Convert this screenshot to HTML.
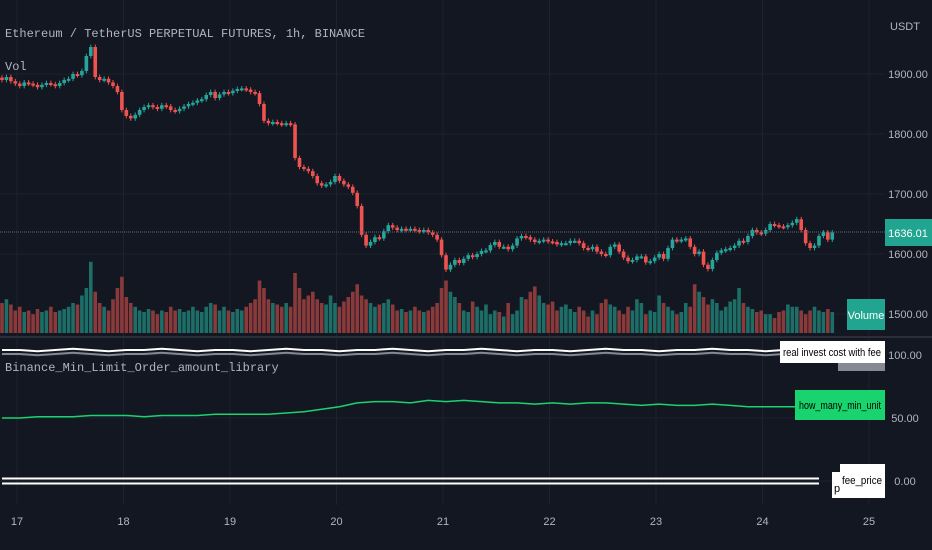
<!DOCTYPE html>
<html><head><meta charset="utf-8"><style>
html,body{margin:0;padding:0;background:#131722;overflow:hidden}
svg{display:block}
.mono{font-family:"Liberation Mono","DejaVu Sans Mono",monospace}
.sans{font-family:"Liberation Sans","DejaVu Sans",sans-serif}
</style></head><body>
<svg id="chart" width="932" height="550" viewBox="0 0 932 550" xmlns="http://www.w3.org/2000/svg">
<rect x="0" y="0" width="932" height="550" fill="#131722"/>
<g id="grid"></g>
<g id="vol"></g>
<g id="candles"></g>
<line x1="0" y1="232" x2="885" y2="232" stroke="#5d6a77" stroke-width="1" stroke-dasharray="1,1"/>
<line x1="0" y1="337" x2="932" y2="337" stroke="#2a2e39" stroke-width="2"/>
<g id="lower"></g>
<g id="axes"></g>
<text class="mono" x="5" y="37" fill="#b2b5be" font-size="12">Ethereum / TetherUS PERPETUAL FUTURES, 1h, BINANCE</text>
<text class="mono" x="5" y="70" fill="#b2b5be" font-size="12">Vol</text>
<text class="mono" x="5" y="371" fill="#b2b5be" font-size="12">Binance_Min_Limit_Order_amount_library</text>
<text class="sans" x="890" y="30" fill="#b2b5be" font-size="11">USDT</text>
<rect x="885" y="219" width="47" height="27" fill="#22a590"/>
<text class="sans" x="908" y="237" fill="#fff" font-size="11" text-anchor="middle">1636.01</text>
<rect x="847" y="299" width="38" height="31" fill="#22a590"/>
<text class="sans" x="866" y="319" fill="#fff" font-size="11" text-anchor="middle">Volume</text>
<rect x="838" y="363" width="47" height="8" fill="#868993"/>
<rect x="780" y="341" width="105" height="22" fill="#fff"/>
<text class="sans" x="832" y="356" fill="#000" font-size="11" text-anchor="middle" textLength="98" lengthAdjust="spacingAndGlyphs">real invest cost with fee</text>
<rect x="795" y="390" width="90" height="30" fill="#19d46e"/>
<text class="sans" x="840" y="409" fill="#000" font-size="11" text-anchor="middle" textLength="82" lengthAdjust="spacingAndGlyphs">how_many_min_unit</text>
<rect x="832" y="472" width="12" height="26" fill="#fff"/>
<text class="sans" x="834" y="492" fill="#000" font-size="11">p</text>
<rect x="840" y="464" width="45" height="34" fill="#fff"/>
<text class="sans" x="862" y="484" fill="#000" font-size="11" text-anchor="middle" textLength="40" lengthAdjust="spacingAndGlyphs">fee_price</text>
</svg>
<script>
const closes=[1890,1895,1888,1884,1880,1886,1884,1882,1878,1882,
1885,1883,1880,1885,1890,1892,1900,1898,1905,1930,
1945,1895,1890,1892,1886,1880,1870,1840,1830,1826,
1832,1840,1845,1848,1845,1842,1848,1846,1840,1838,
1842,1846,1850,1852,1856,1858,1865,1870,1860,1866,
1870,1868,1872,1875,1876,1874,1870,1868,1850,1822,
1818,1820,1818,1816,1818,1816,1760,1745,1742,1738,
1730,1718,1714,1716,1720,1730,1722,1716,1712,1702,
1680,1632,1614,1620,1628,1626,1638,1648,1644,1640,
1642,1640,1642,1640,1638,1640,1636,1632,1624,1598,
1574,1582,1590,1585,1592,1598,1595,1600,1605,1606,
1615,1620,1612,1612,1608,1614,1626,1630,1628,1624,
1620,1622,1624,1621,1620,1616,1618,1618,1622,1622,
1618,1610,1608,1612,1604,1600,1598,1612,1616,1604,
1594,1588,1590,1596,1596,1586,1588,1594,1600,1592,
1610,1624,1622,1624,1626,1612,1600,1604,1582,1575,
1590,1602,1606,1608,1610,1614,1622,1620,1630,1640,
1636,1634,1640,1650,1648,1646,1645,1648,1652,1658,
1640,1618,1610,1614,1630,1636,1624,1636];
const volumes=[40,45,38,30,35,28,30,25,32,28,
30,35,28,30,32,35,40,38,50,60,
95,55,40,35,30,45,60,75,48,40,
35,30,28,32,30,25,30,28,35,30,
32,28,30,35,30,28,35,40,38,30,
35,30,28,32,30,35,40,45,70,60,
45,40,38,35,40,35,80,60,45,50,
55,45,40,38,50,40,35,42,48,55,
65,50,45,40,35,38,40,45,38,30,
32,28,30,35,30,28,30,35,40,60,
70,55,48,40,30,28,42,35,30,38,
25,30,28,22,40,25,30,48,45,55,
62,50,40,38,42,30,35,38,32,28,
35,30,22,30,25,40,45,38,35,30,
25,35,30,45,40,25,30,28,50,40,
35,30,25,28,40,35,65,55,48,38,
45,40,30,35,42,45,60,40,35,32,
28,30,25,25,20,28,30,38,35,35,
30,25,30,35,30,28,32,28];
const minUnit=[50,50,51,51,51,52,52,52,51,52,52,52,53,53,53,53,54,55,57,59,62,63,63,62,64,63,64,63,62,62,61,62,61,62,62,61,60,61,60,60,61,60,59,59,59,59,59];
const investCost=[104,104,103,104,105,104,103,104,104,105,104,103,104,104,103,104,105,104,104,103,104,104,105,104,103,104,104,105,104,103,104,104,103,104,105,104,104,103,104,104,105,104,104,103,104,104,104];
const feeVal=[2,2,2,2,2,2,2,2,2,2,2,2,2,2,2,2,2,2,2,2,2,2,2,2,2,2,2,2,2,2,2,2,2,2,2,2,2,2,2,2,2,2,2,2,2,2,2];
const priceTicks=[1900,1800,1700,1600,1500];
const lowerTicks=[100,50,0];
const dayLabels=["17","18","19","20","21","22","23","24","25"];

const NS="http://www.w3.org/2000/svg";
const xC=i=>2+i*4.44;
const yP=p=>74+(1900-p)*0.6;
const yL=v=>481-v*1.26;
const xDay=d=>17+d*106.5;
function mk(t,a,parent){const e=document.createElementNS(NS,t);for(const k in a)e.setAttribute(k,a[k]);parent.appendChild(e);return e;}
const grid=document.getElementById('grid'),axes=document.getElementById('axes');
priceTicks.forEach(p=>{
 const l=mk('line',{x1:0,x2:885,y1:yP(p),y2:yP(p),stroke:'#1e222d','stroke-width':1},grid);
 
 
 const t=mk('text',{x:908,y:yP(p)+4,fill:'#b2b5be','font-size':11,'text-anchor':'middle','class':'sans'},axes);
 t.textContent=p.toFixed(2);
 
 
});
lowerTicks.forEach(v=>{
 const l=mk('line',{x1:0,x2:885,y1:yL(v),y2:yL(v),stroke:'#1e222d','stroke-width':1},grid);
 
 
 const t=mk('text',{x:905,y:yL(v)+4,fill:'#b2b5be','font-size':11,'text-anchor':'middle','class':'sans'},axes);
 t.textContent=v.toFixed(2);
 
 
});
dayLabels.forEach((d,i)=>{
 const l=mk('line',{x1:xDay(i),x2:xDay(i),y1:0,y2:505,stroke:'#1e222d','stroke-width':1},grid);
 
 
 const t=mk('text',{x:xDay(i),y:525,fill:'#b2b5be','font-size':11,'text-anchor':'middle','class':'sans'},axes);
 t.textContent=d;
 
 
});
const cg=document.getElementById('candles'),vg=document.getElementById('vol');
closes.forEach((c,i)=>{
 const o=i?closes[i-1]:c+4;
 const up=c>=o;
 const col=up?'#26a69a':'#ef5350';
 const x=xC(i);
 const v=mk('rect',{x:x-1.8,y:333-volumes[i]*0.75,width:3.6,height:volumes[i]*0.75,fill:up?'#1e6e68':'#8a3a3a'},vg);
 
 
 const hi=Math.max(o,c)+4,lo=Math.min(o,c)-4;
 const w=mk('line',{x1:x,x2:x,y1:yP(hi),y2:yP(lo),stroke:col,'stroke-width':1},cg);
 
 
 const top=yP(Math.max(o,c)),h=Math.max(2,Math.abs(yP(o)-yP(c)));
 const b=mk('rect',{x:x-1.8,y:top,width:3.6,height:h,fill:col},cg);
 
 
});
const lg=document.getElementById('lower');
function line(arr,off,stroke,w,name){
 const pts=arr.map((v,i)=>(Math.min(xC(i*4),840)).toFixed(1)+','+(yL(v)+off).toFixed(1)).join(' ');
 const p=mk('polyline',{points:pts,fill:'none',stroke:stroke,'stroke-width':w},lg);
 
 
}
line(investCost,4,'#868993',2,'invest-cost-grey-line');
line(investCost,0,'#ffffff',2,'invest-cost-line');
line(minUnit,0,'#19d46e',1.5,'min-unit-line');
line(feeVal,0,'#ffffff',2,'fee-price-line');
line(feeVal,5,'#ffffff',2,'fee-price-line-2');
</script>
</body></html>
